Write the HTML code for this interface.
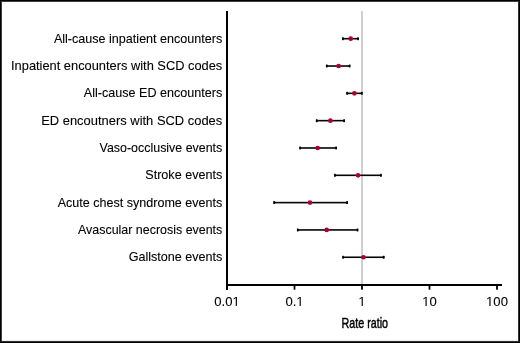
<!DOCTYPE html>
<html><head><meta charset="utf-8"><style>
html,body{margin:0;padding:0;background:#fff;}
body{width:520px;height:343px;overflow:hidden;position:relative;}
svg{position:absolute;left:0;top:0;will-change:transform;}
text{-webkit-font-smoothing:antialiased;font-family:"Liberation Sans",sans-serif;font-size:13.1px;fill:#000;stroke:#000;stroke-width:0.1px;}
</style></head><body>
<svg width="520" height="343" viewBox="0 0 520 343">
<rect x="0" y="0" width="520" height="343" fill="#fff"/>
<rect x="361" y="11" width="2" height="274" fill="#cfcfcf"/>
<text x="222.3" y="42.70" text-anchor="end" textLength="168.4" lengthAdjust="spacingAndGlyphs">All-cause inpatient encounters</text>
<rect x="342.30" y="37.90" width="16.30" height="1.6" fill="#050505"/>
<rect x="342.00" y="37.20" width="1.8" height="3.0" rx="0.4" fill="#050505"/>
<rect x="357.10" y="37.20" width="1.8" height="3.0" rx="0.4" fill="#050505"/>
<circle cx="350.70" cy="38.70" r="2.35" fill="#ab002d"/>
<text x="222.3" y="70.03" text-anchor="end" textLength="211.24" lengthAdjust="spacingAndGlyphs">Inpatient encounters with SCD codes</text>
<rect x="326.20" y="65.22" width="24.00" height="1.6" fill="#050505"/>
<rect x="325.90" y="64.52" width="1.8" height="3.0" rx="0.4" fill="#050505"/>
<rect x="348.70" y="64.52" width="1.8" height="3.0" rx="0.4" fill="#050505"/>
<circle cx="338.60" cy="66.02" r="2.35" fill="#ab002d"/>
<text x="222.3" y="97.36" text-anchor="end" textLength="138.47" lengthAdjust="spacingAndGlyphs">All-cause ED encounters</text>
<rect x="346.50" y="92.54" width="15.90" height="1.6" fill="#050505"/>
<rect x="346.20" y="91.84" width="1.8" height="3.0" rx="0.4" fill="#050505"/>
<rect x="360.90" y="91.84" width="1.8" height="3.0" rx="0.4" fill="#050505"/>
<circle cx="354.40" cy="93.34" r="2.35" fill="#ab002d"/>
<text x="222.3" y="124.69" text-anchor="end" textLength="181.12" lengthAdjust="spacingAndGlyphs">ED encoutners with SCD codes</text>
<rect x="316.10" y="119.86" width="28.60" height="1.6" fill="#050505"/>
<rect x="315.80" y="119.16" width="1.8" height="3.0" rx="0.4" fill="#050505"/>
<rect x="343.20" y="119.16" width="1.8" height="3.0" rx="0.4" fill="#050505"/>
<circle cx="330.40" cy="120.66" r="2.35" fill="#ab002d"/>
<text x="222.3" y="152.02" text-anchor="end" textLength="122.72" lengthAdjust="spacingAndGlyphs">Vaso-occlusive events</text>
<rect x="299.50" y="147.18" width="37.20" height="1.6" fill="#050505"/>
<rect x="299.20" y="146.48" width="1.8" height="3.0" rx="0.4" fill="#050505"/>
<rect x="335.20" y="146.48" width="1.8" height="3.0" rx="0.4" fill="#050505"/>
<circle cx="317.70" cy="147.98" r="2.35" fill="#ab002d"/>
<text x="222.3" y="179.35" text-anchor="end" textLength="77.04" lengthAdjust="spacingAndGlyphs">Stroke events</text>
<rect x="334.30" y="174.50" width="47.20" height="1.6" fill="#050505"/>
<rect x="334.00" y="173.80" width="1.8" height="3.0" rx="0.4" fill="#050505"/>
<rect x="380.00" y="173.80" width="1.8" height="3.0" rx="0.4" fill="#050505"/>
<circle cx="358.00" cy="175.30" r="2.35" fill="#ab002d"/>
<text x="222.3" y="206.68" text-anchor="end" textLength="164.58" lengthAdjust="spacingAndGlyphs">Acute chest syndrome events</text>
<rect x="273.60" y="201.82" width="74.10" height="1.6" fill="#050505"/>
<rect x="273.30" y="201.12" width="1.8" height="3.0" rx="0.4" fill="#050505"/>
<rect x="346.20" y="201.12" width="1.8" height="3.0" rx="0.4" fill="#050505"/>
<circle cx="310.00" cy="202.62" r="2.35" fill="#ab002d"/>
<text x="222.3" y="234.01" text-anchor="end" textLength="144.29" lengthAdjust="spacingAndGlyphs">Avascular necrosis events</text>
<rect x="297.20" y="229.14" width="60.90" height="1.6" fill="#050505"/>
<rect x="296.90" y="228.44" width="1.8" height="3.0" rx="0.4" fill="#050505"/>
<rect x="356.60" y="228.44" width="1.8" height="3.0" rx="0.4" fill="#050505"/>
<circle cx="326.70" cy="229.94" r="2.35" fill="#ab002d"/>
<text x="222.3" y="261.34" text-anchor="end" textLength="93.65" lengthAdjust="spacingAndGlyphs">Gallstone events</text>
<rect x="342.50" y="256.46" width="41.80" height="1.6" fill="#050505"/>
<rect x="342.20" y="255.76" width="1.8" height="3.0" rx="0.4" fill="#050505"/>
<rect x="382.80" y="255.76" width="1.8" height="3.0" rx="0.4" fill="#050505"/>
<circle cx="363.50" cy="257.26" r="2.35" fill="#ab002d"/>
<rect x="226" y="11" width="2" height="279" fill="#000"/>
<rect x="226" y="284" width="276" height="2" fill="#000"/>
<rect x="226.10" y="284" width="1.8" height="5.7" fill="#000"/>
<text x="214.254" y="305.9">0</text>
<text x="221.537" y="305.9">.</text>
<text x="225.179" y="305.9">0</text>
<path transform="translate(232.463,305.9) scale(0.00640,-0.00640)" d="M515 0L515 1237L197 1010L197 1180L530 1409L696 1409L696 0Z" fill="#000"/>
<rect x="293.60" y="284" width="1.8" height="5.7" fill="#000"/>
<text x="285.395" y="305.9">0</text>
<text x="292.679" y="305.9">.</text>
<path transform="translate(296.321,305.9) scale(0.00640,-0.00640)" d="M515 0L515 1237L197 1010L197 1180L530 1409L696 1409L696 0Z" fill="#000"/>
<rect x="361.10" y="284" width="1.8" height="5.7" fill="#000"/>
<path transform="translate(358.358,305.9) scale(0.00640,-0.00640)" d="M515 0L515 1237L197 1010L197 1180L530 1409L696 1409L696 0Z" fill="#000"/>
<rect x="428.60" y="284" width="1.8" height="5.7" fill="#000"/>
<path transform="translate(422.216,305.9) scale(0.00640,-0.00640)" d="M515 0L515 1237L197 1010L197 1180L530 1409L696 1409L696 0Z" fill="#000"/>
<text x="429.500" y="305.9">0</text>
<rect x="496.10" y="284" width="1.8" height="5.7" fill="#000"/>
<path transform="translate(486.075,305.9) scale(0.00640,-0.00640)" d="M515 0L515 1237L197 1010L197 1180L530 1409L696 1409L696 0Z" fill="#000"/>
<text x="493.358" y="305.9">0</text>
<text x="500.642" y="305.9">0</text>
<text x="364.8" y="327.6" text-anchor="middle" style="font-size:14.4px;font-weight:normal;stroke:#000;stroke-width:0.45px" textLength="46.5" lengthAdjust="spacingAndGlyphs">Rate ratio</text>
<rect x="0" y="0" width="520" height="1" fill="#000"/>
<rect x="1" y="1" width="518" height="1" fill="#404040"/>
<rect x="0" y="0" width="1" height="343" fill="#000"/>
<rect x="1" y="1" width="1" height="340" fill="#404040"/>
<rect x="519" y="0" width="1" height="343" fill="#000"/>
<rect x="518" y="1" width="1" height="341" fill="#303030"/>
<rect x="0" y="342" width="520" height="1" fill="#000"/>
<rect x="1" y="341" width="518" height="1" fill="#303030"/>
<rect x="2" y="340" width="516" height="1" fill="#eee"/>
</svg>
</body></html>
